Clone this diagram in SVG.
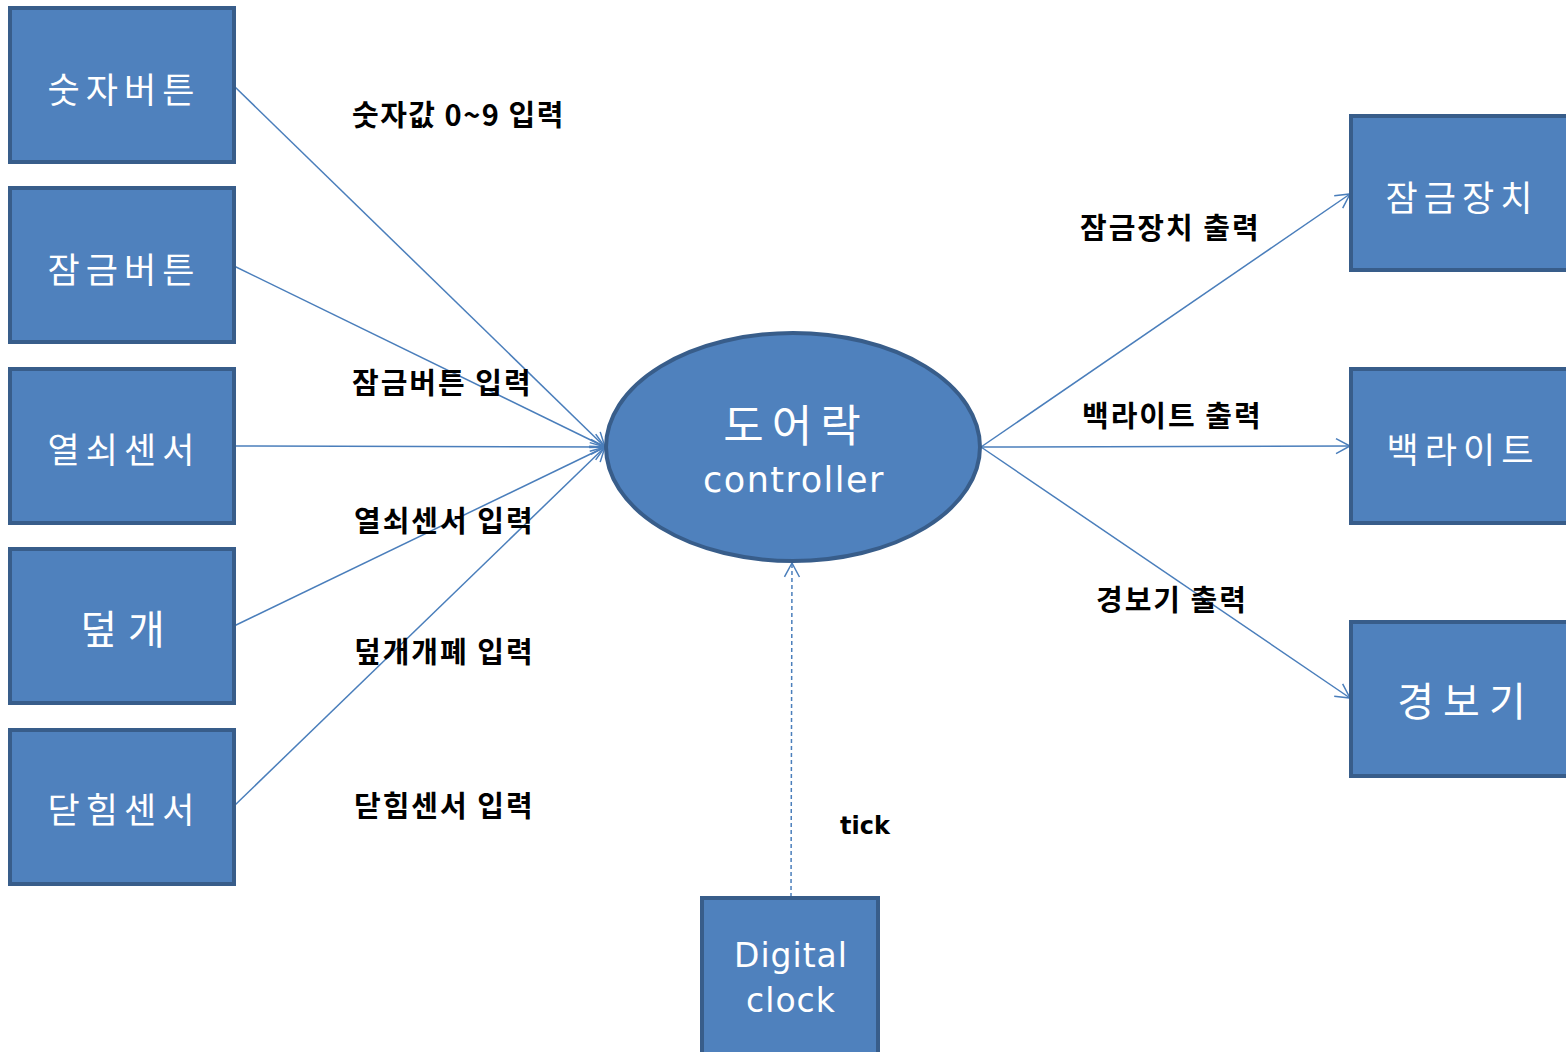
<svg xmlns="http://www.w3.org/2000/svg" width="1566" height="1052" viewBox="0 0 1566 1052">
<defs>
<style>
.box{fill:#4f81bd;stroke:#385d8a;stroke-width:4}
.bt{fill:#fff;font-family:"Noto Sans CJK KR","Noto Sans",sans-serif;font-size:35px;letter-spacing:6px;text-anchor:middle;dominant-baseline:central}
.bt2{font-size:40px;letter-spacing:11px}
.lt{fill:#fff;font-family:"DejaVu Sans",sans-serif;text-anchor:middle;dominant-baseline:central}
.lbl{fill:#000;font-family:"Noto Sans CJK KR","DejaVu Sans",sans-serif;font-weight:bold;font-size:29px;letter-spacing:2px;dominant-baseline:central}
.con{stroke:#4a7ebb;stroke-width:1.5;fill:none}
</style>
<marker id="arr" markerUnits="userSpaceOnUse" markerWidth="20" markerHeight="20" viewBox="0 0 20 20" refX="15" refY="10" orient="auto">
<path d="M1,2.5 L15,10 L1,17.5" fill="none" stroke="#4a7ebb" stroke-width="1.5"/>
</marker>
</defs>
<rect width="1566" height="1052" fill="#fff"/>
<g id="connectors">
<line class="con" x1="234" y1="86" x2="605" y2="447" marker-end="url(#arr)"/>
<line class="con" x1="234" y1="266" x2="605" y2="447" marker-end="url(#arr)"/>
<line class="con" x1="234" y1="446" x2="605" y2="447" marker-end="url(#arr)"/>
<line class="con" x1="234" y1="626" x2="605" y2="447" marker-end="url(#arr)"/>
<line class="con" x1="234" y1="806" x2="605" y2="447" marker-end="url(#arr)"/>
<line class="con" x1="981" y1="447" x2="1350" y2="194" marker-end="url(#arr)"/>
<line class="con" x1="981" y1="447" x2="1350" y2="446" marker-end="url(#arr)"/>
<line class="con" x1="981" y1="447" x2="1350" y2="698" marker-end="url(#arr)"/>
<line class="con" x1="791" y1="897" x2="792" y2="563" stroke-dasharray="4 3" marker-end="url(#arr)"/>
</g>
<g id="n-numbtn"><rect class="box" x="10" y="8" width="224" height="154"/><text class="bt" x="124" y="87">숫자버튼</text></g>
<g id="n-lockbtn"><rect class="box" x="10" y="188" width="224" height="154"/><text class="bt" x="124" y="267">잠금버튼</text></g>
<g id="n-keysensor"><rect class="box" x="10" y="369" width="224" height="154"/><text class="bt" x="124" y="447">열쇠센서</text></g>
<g id="n-cover"><rect class="box" x="10" y="549" width="224" height="154"/><text class="bt bt2" x="128" y="627">덮개</text></g>
<g id="n-closesensor"><rect class="box" x="10" y="730" width="224" height="154"/><text class="bt" x="124" y="807">닫힘센서</text></g>
<g id="n-controller"><ellipse cx="793" cy="447" rx="187" ry="114" fill="#4f81bd" stroke="#385d8a" stroke-width="4"/>
<text class="bt" x="796" y="423" style="font-size:44px;letter-spacing:8px">도어락</text>
<text class="lt" x="794" y="480" style="font-size:35px;letter-spacing:1.5px">controller</text></g>
<g id="n-lock"><rect class="box" x="1351" y="116" width="232" height="154"/><text class="bt" x="1462" y="195">잠금장치</text></g>
<g id="n-backlight"><rect class="box" x="1351" y="369" width="232" height="154"/><text class="bt" x="1463" y="447">백라이트</text></g>
<g id="n-alarm"><rect class="box" x="1351" y="622" width="232" height="154"/><text class="bt bt2" x="1466" y="699" style="letter-spacing:9px">경보기</text></g>
<g id="n-clock"><rect class="box" x="702" y="898" width="176" height="160"/>
<text class="lt" x="791" y="955" style="font-size:33px;letter-spacing:1px">Digital</text>
<text class="lt" x="791" y="1000" style="font-size:33px;letter-spacing:1px">clock</text></g>
<g id="labels">
<text class="lbl" x="352" y="113" style="letter-spacing:1.5px">숫자값 0~9 입력</text>
<text class="lbl" x="352" y="381">잠금버튼 입력</text>
<text class="lbl" x="354" y="519">열쇠센서 입력</text>
<text class="lbl" x="354" y="650">덮개개폐 입력</text>
<text class="lbl" x="354" y="804">닫힘센서 입력</text>
<text class="lbl" x="840" y="826" style="font-family:'DejaVu Sans',sans-serif;font-size:24px;letter-spacing:0">tick</text>
<text class="lbl" x="1080" y="226">잠금장치 출력</text>
<text class="lbl" x="1082" y="414">백라이트 출력</text>
<text class="lbl" x="1096" y="598">경보기 출력</text>
</g>
</svg>
